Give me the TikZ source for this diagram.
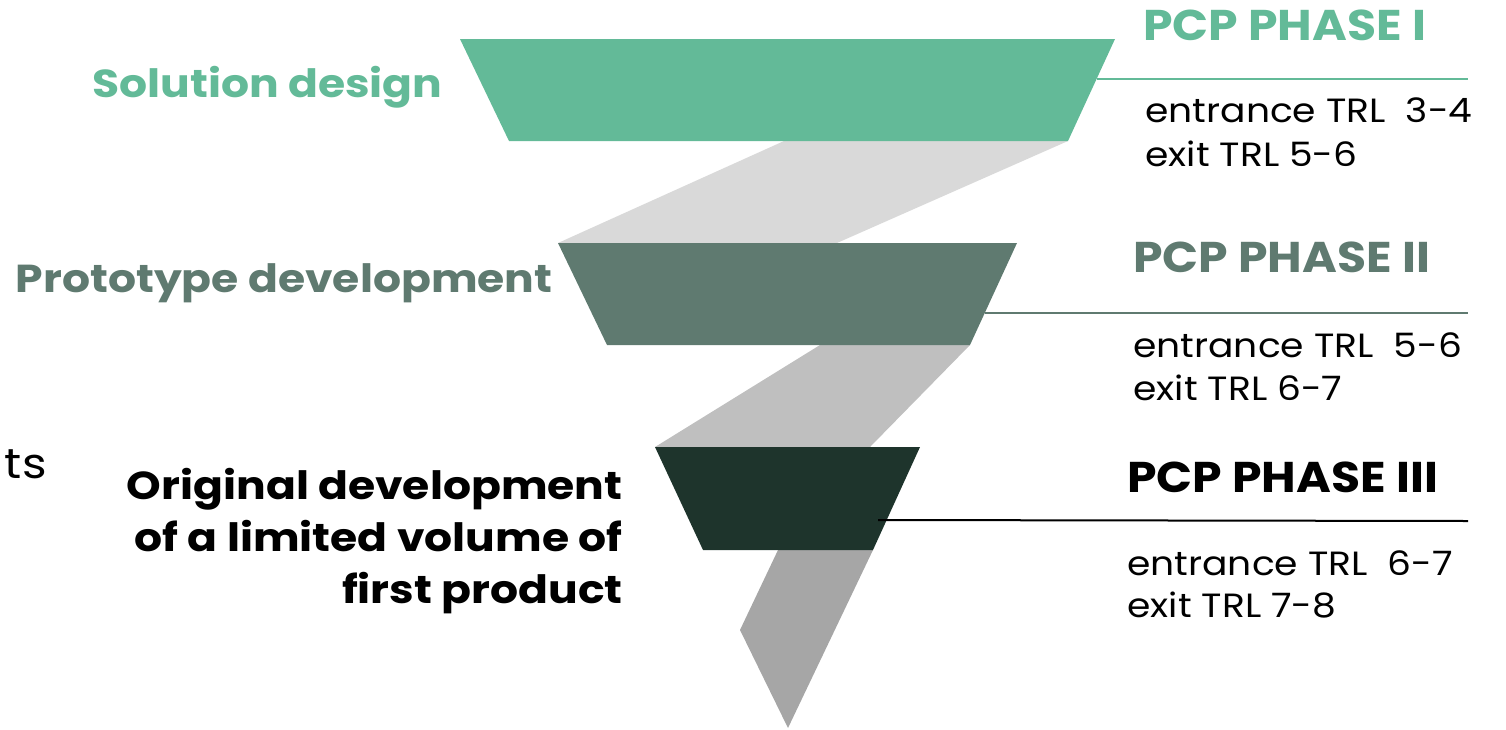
\documentclass[tikz,border=0pt]{standalone}
\usepackage{fontspec}
\setmainfont{Poppins}
\newfontfamily\titlefam[FakeStretch=1.1]{Poppins}
\newfontfamily\stagefam[FakeStretch=1.13]{Poppins}
\newfontfamily\bodyfam[FakeStretch=1.12]{Poppins}
\definecolor{phaseone}{HTML}{63BA98}
\definecolor{phasetwo}{HTML}{5F7A70}
\definecolor{phasethree}{HTML}{1E342C}
\definecolor{bandone}{HTML}{D9D9D9}
\definecolor{bandtwo}{HTML}{BFBFBF}
\definecolor{bandthree}{HTML}{A6A6A6}
\begin{document}
\begin{tikzpicture}[x=0.5pt,y=-0.5pt,
  title/.style={font=\titlefam\fontsize{21.5}{26}\selectfont\bfseries, inner sep=0pt},
  stage/.style={font=\stagefam\fontsize{19.5}{26}\selectfont\bfseries, inner sep=0pt},
  trl/.style={font=\bodyfam\fontsize{16.8}{21.5}\selectfont, inner sep=0pt, align=left},
  rule/.style={line width=1pt}]
\useasboundingbox (0,0) rectangle (1506,729);

% connecting bands (drawn first, under the phase blocks)
\fill[bandone]   (784,141) -- (1068,141) -- (837,243) -- (558,243) -- cycle;
\fill[bandtwo]   (820,345) -- (970,345) -- (870,447) -- (655,447) -- cycle;
\fill[bandthree] (778,550) -- (873,550) -- (788,728) -- (740,630) -- cycle;

% phase blocks
\fill[phaseone]   (460,39)  -- (1115,39)  -- (1068,141) -- (509,141) -- cycle;
\fill[phasetwo]   (558,243) -- (1017,243) -- (970,345)  -- (607,345) -- cycle;
\fill[phasethree] (655,447) -- (920,447)  -- (873,550)  -- (703,550) -- cycle;

% leader lines to the phase labels
\coordinate (l1a) at (1097,79);  \coordinate (l1b) at (1468,79);
\coordinate (l2a) at (985,313);  \coordinate (l2b) at (1468,313);
\coordinate (l3a) at (878,520);  \coordinate (l3b) at (1468,521);
\draw[rule, phaseone] (l1a) -- (l1b);
\draw[rule, phasetwo] (l2a) -- (l2b);
\draw[rule, black]    (l3a) -- (l3b);

% phase labels
\node[title, text=phaseone, anchor=base west] (p1) at (1143,40) {PCP PHASE I};
\node[title, text=phasetwo, anchor=base west] (p2) at (1133,272) {PCP PHASE II};
\node[title, text=black, anchor=base west] (p3) at (1127,492) {PCP PHASE III};

% TRL ranges
\node[trl, anchor=base west] (t1a) at (1145,122) {entrance TRL~~3-4};
\node[trl, anchor=base west] (t1b) at (1145,166) {exit TRL 5-6};
\node[trl, anchor=base west] (t2a) at (1133,357) {entrance TRL~~5-6};
\node[trl, anchor=base west] (t2b) at (1133,400) {exit TRL 6-7};
\node[trl, anchor=base west] (t3a) at (1127,575) {entrance TRL~~6-7};
\node[trl, anchor=base west] (t3b) at (1127,617) {exit TRL 7-8};

% stage names
\node[stage, text=phaseone, anchor=base east] (s1) at (443,97) {Solution design};
\node[stage, text=phasetwo, anchor=base east] (s2) at (553,292) {Prototype development};
\node[stage, text=black, anchor=base east] (s3a) at (623,499) {Original development};
\node[stage, text=black, anchor=base east] (s3b) at (623,551) {of a limited volume of};
\node[stage, text=black, anchor=base east] (s3c) at (623,603) {first product};

\node[trl, font=\bodyfam\fontsize{21}{26}\selectfont, anchor=base east] (edge) at (47,478) {ts};
\end{tikzpicture}
\end{document}
